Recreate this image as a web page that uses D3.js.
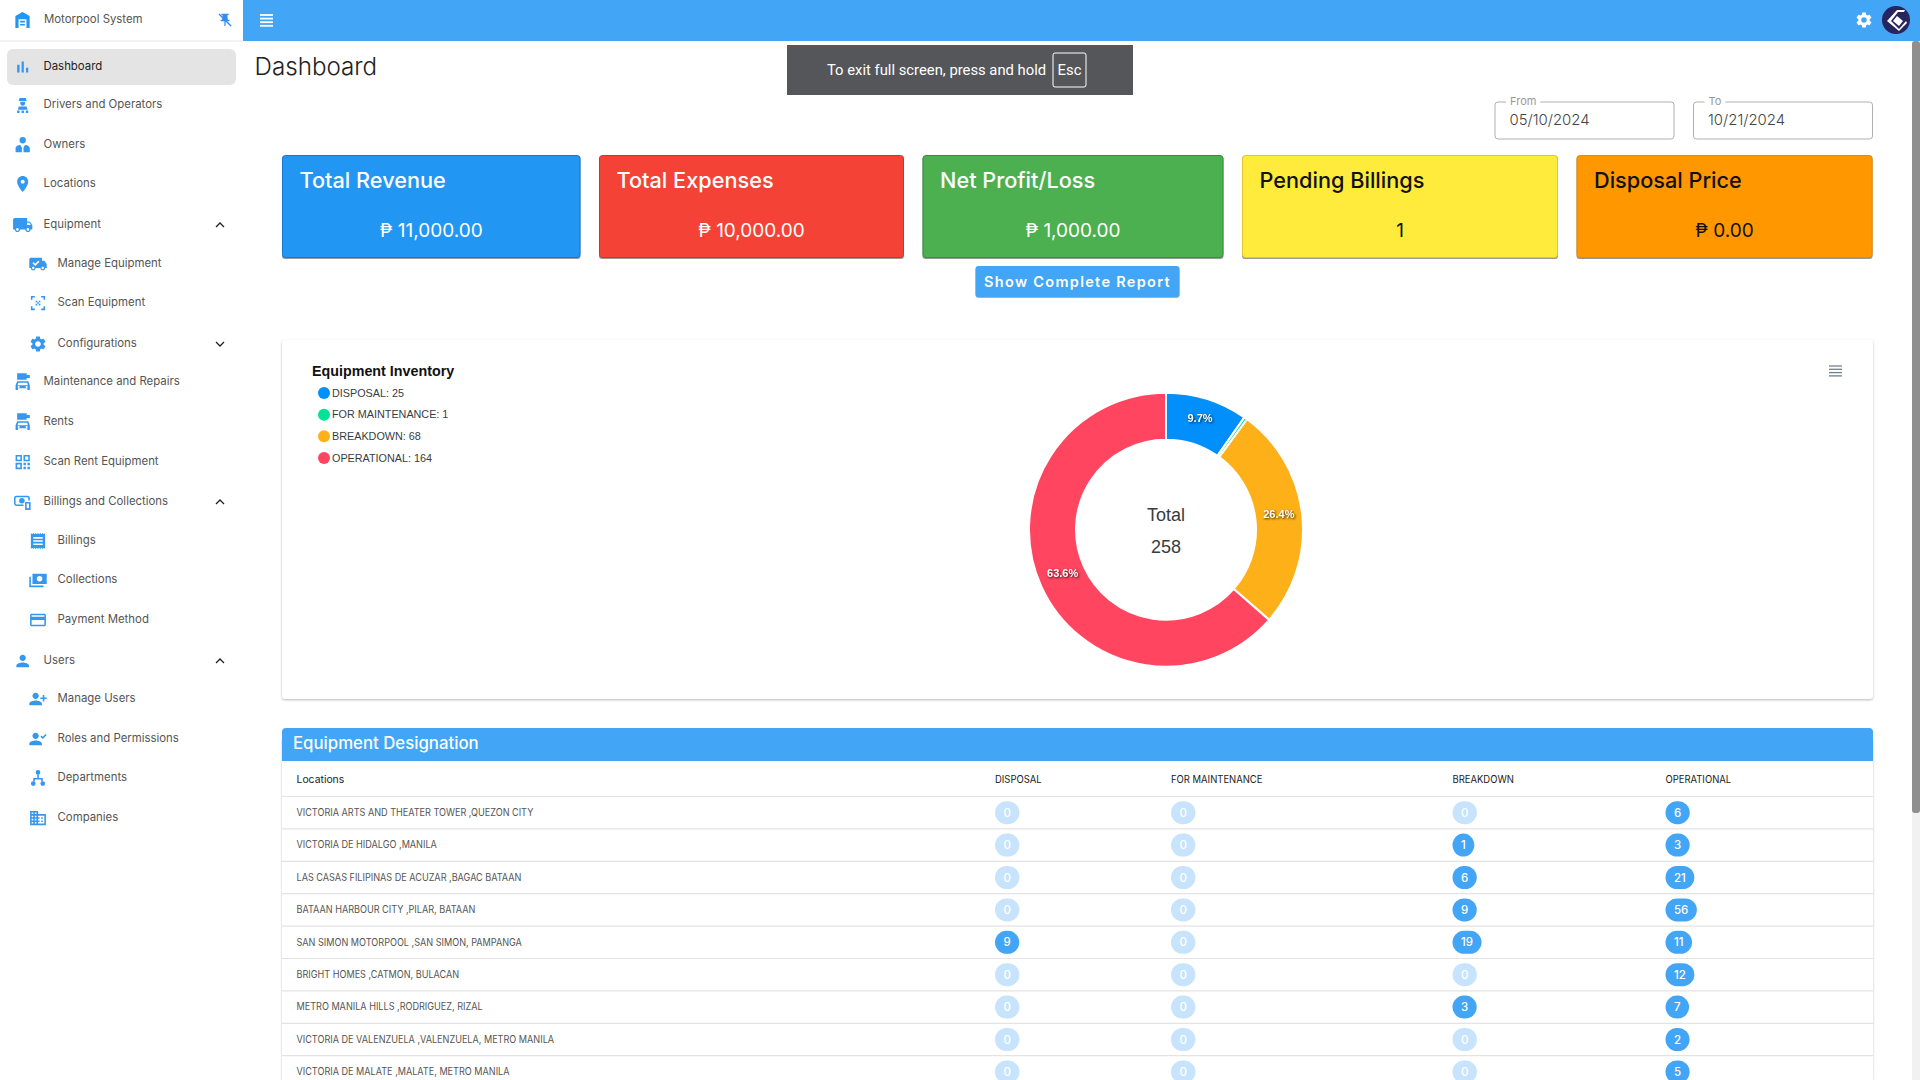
<!DOCTYPE html>
<html>
<head>
<meta charset="utf-8">
<script src="https://cdn.jsdelivr.net/npm/d3@7"></script>
<style>
  html, body { margin: 0; padding: 0; background: #fff; overflow: hidden; }
  svg { display: block; }
  text { font-family: Inter, Roboto, sans-serif; }
  .apex { font-family: "Liberation Sans", Arial, sans-serif; }
  .toast { font-family: Roboto, sans-serif; }
</style>
</head>
<body>
<div id="chart"></div>
<script>
// donut data
const categories = ["DISPOSAL", "FOR MAINTENANCE", "BREAKDOWN", "OPERATIONAL"];
const inventory = [25, 1, 68, 164];
const sliceColors = ["#008ffb", "#00e396", "#feb019", "#ff4560"];

// table data
const locations = [
  "VICTORIA ARTS AND THEATER TOWER ,QUEZON CITY",
  "VICTORIA DE HIDALGO ,MANILA",
  "LAS CASAS FILIPINAS DE ACUZAR ,BAGAC BATAAN",
  "BATAAN HARBOUR CITY ,PILAR, BATAAN",
  "SAN SIMON MOTORPOOL ,SAN SIMON, PAMPANGA",
  "BRIGHT HOMES ,CATMON, BULACAN",
  "METRO MANILA HILLS ,RODRIGUEZ, RIZAL",
  "VICTORIA DE VALENZUELA ,VALENZUELA, METRO MANILA",
  "VICTORIA DE MALATE ,MALATE, METRO MANILA"
];
const disposal = [0, 0, 0, 0, 9, 0, 0, 0, 0];
const maintenance = [0, 0, 0, 0, 0, 0, 0, 0, 0];
const breakdown = [0, 1, 6, 9, 19, 0, 3, 0, 0];
const operational = [6, 3, 21, 56, 11, 12, 7, 2, 5];

// summary cards
const cardTitles = ["Total Revenue", "Total Expenses", "Net Profit/Loss", "Pending Billings", "Disposal Price"];
const cardValues = ["₱ 11,000.00", "₱ 10,000.00", "₱ 1,000.00", "1", "₱ 0.00"];
const cardColors = ["#2196f3", "#f44336", "#4caf50", "#ffeb3b", "#ff9800"];
const cardEdges = ["#1976d2", "#d32f2f", "#388e3c", "#e0c828", "#e68a00"];
const cardText = ["#fff", "#fff", "#fff", "#111", "#111"];
const cardLeft = [282, 599, 922.5, 1242, 1576.5];
const cardRight = [580.5, 904, 1223.5, 1558, 1872.6];

// sidebar
const navLabels = ["Dashboard", "Drivers and Operators", "Owners", "Locations", "Equipment", "Manage Equipment", "Scan Equipment", "Configurations", "Maintenance and Repairs", "Rents", "Scan Rent Equipment", "Billings and Collections", "Billings", "Collections", "Payment Method", "Users", "Manage Users", "Roles and Permissions", "Departments", "Companies"];
const navIcons = ["bars", "driver", "owner", "place", "truck", "truckCheck", "scan", "gear", "carKey", "carKey", "qr", "money", "receipt", "cash", "card", "person", "personAdd", "personCheck", "tree", "business"];
const navLevel = [0, 0, 0, 0, 0, 1, 1, 1, 0, 0, 0, 0, 1, 1, 1, 0, 1, 1, 1, 1];
const navY = [66.5, 104.5, 144.5, 183.5, 224.5, 263.5, 302.5, 343.5, 381.5, 421.5, 461.5, 501.5, 540.5, 579.5, 619.5, 660.5, 698.5, 738.5, 777.5, 817.5];
const navChevrons = { "Equipment": "up", "Configurations": "down", "Billings and Collections": "up", "Users": "up" };

const iconPaths = {
  bars: "M5 9.2h3V19H5zM10.6 5h2.8v14h-2.8zm5.6 8H19v6h-2.8z",
  driver: "M8 3h8l1 4H7zM9 8h6v2a3 3 0 0 1-6 0zM7 14h10l1 4H6zM5 19h3v3H5zM10.5 19h3v3h-3zM16 19h3v3h-3z",
  owner: "M12 2a4 4 0 1 1 0 8 4 4 0 0 1 0-8zM3 21v-5c0-2 3-4 6-4l2 3v6zM21 21v-5c0-2-3-4-6-4l-2 3v6z",
  place: "M12 2C8.13 2 5 5.13 5 9c0 5.25 7 13 7 13s7-7.75 7-13c0-3.87-3.13-7-7-7zm0 9.5c-1.38 0-2.5-1.12-2.5-2.5s1.12-2.5 2.5-2.5 2.5 1.12 2.5 2.5-1.12 2.5-2.5 2.5z",
  truck: "M20 8h-3V4H3c-1.1 0-2 .9-2 2v11h2c0 1.66 1.34 3 3 3s3-1.34 3-3h6c0 1.66 1.34 3 3 3s3-1.34 3-3h2v-5l-3-4zM6 18.5c-.83 0-1.5-.67-1.5-1.5s.67-1.5 1.5-1.5 1.5.67 1.5 1.5-.67 1.5-1.5 1.5zm13.5-9l1.96 2.5H17V9.5h2.5zm-1.5 9c-.83 0-1.5-.67-1.5-1.5s.67-1.5 1.5-1.5 1.5.67 1.5 1.5-.67 1.5-1.5 1.5z",
  truckCheck: "M20 8h-3V4H3c-1.1 0-2 .9-2 2v11h2c0 1.66 1.34 3 3 3s3-1.34 3-3h6c0 1.66 1.34 3 3 3s3-1.34 3-3h2v-5l-3-4zM6 18.5c-.83 0-1.5-.67-1.5-1.5s.67-1.5 1.5-1.5 1.5.67 1.5 1.5-.67 1.5-1.5 1.5zm12 0c-.83 0-1.5-.67-1.5-1.5s.67-1.5 1.5-1.5 1.5.67 1.5 1.5-.67 1.5-1.5 1.5zM5 11l1.4-1.4L8.5 11.7l4-4L13.9 9.1l-5.4 5.4z",
  scan: "M3 8V3h5v2H5v3zM16 3h5v5h-2V5h-3zM3 16h2v3h3v2H3zM19 16h2v5h-5v-2h3zM9 9h2v2H9zM13 9h2v2h-2zM11 11h2v2h-2zM9 13h2v2H9zM13 13h2v2h-2z",
  gear: "M19.14 12.94c.04-.3.06-.61.06-.94 0-.32-.02-.64-.07-.94l2.03-1.58c.18-.14.23-.41.12-.61l-1.92-3.32c-.12-.22-.37-.29-.59-.22l-2.39.96c-.5-.38-1.03-.7-1.62-.94l-.36-2.54c-.04-.24-.24-.41-.48-.41h-3.84c-.24 0-.43.17-.47.41l-.36 2.54c-.59.24-1.13.57-1.62.94l-2.39-.96c-.22-.08-.47 0-.59.22L2.74 8.87c-.12.21-.08.47.12.61l2.03 1.58c-.05.3-.09.63-.09.94s.02.64.07.94l-2.03 1.58c-.18.14-.23.41-.12.61l1.92 3.32c.12.22.37.29.59.22l2.39-.96c.5.38 1.03.7 1.62.94l.36 2.54c.05.24.24.41.48.41h3.84c.24 0 .44-.17.47-.41l.36-2.54c.59-.24 1.13-.56 1.62-.94l2.39.96c.22.08.47 0 .59-.22l1.92-3.32c.12-.22.07-.47-.12-.61l-2.01-1.58zM12 15.6c-1.98 0-3.6-1.62-3.6-3.6s1.62-3.6 3.6-3.6 3.6 1.62 3.6 3.6-1.62 3.6-3.6 3.6z",
  carKey: "M5 1h12v2h4v4h-4v2H5zM5 11h14l2 5v6h-3v-2H6v2H3v-6zM6.5 13l-1 3h13l-1-3zM7 17a1.3 1.3 0 1 0 0 2.6A1.3 1.3 0 0 0 7 17zm10 0a1.3 1.3 0 1 0 0 2.6 1.3 1.3 0 0 0 0-2.6z",
  qr: "M3 3h8v8H3zm2 2v4h4V5zM13 3h8v8h-8zm2 2v4h4V5zM3 13h8v8H3zm2 2v4h4v-4zM13 13h3v3h-3zM18 13h3v3h-3zM13 18h3v3h-3zM18 18h3v3h-3z",
  money: "M4 4h14a3 3 0 0 1 3 3v3h-2V7a1 1 0 0 0-1-1H4a1 1 0 0 0-1 1v7a1 1 0 0 0 1 1h9v2H4a3 3 0 0 1-3-3V7a3 3 0 0 1 3-3zM11 7a3.5 3.5 0 1 1 0 7 3.5 3.5 0 0 1 0-7zM15 12h7v10h-7zm2 2v6h3v-6z",
  receipt: "M18 17H6v-2h12v2zm0-4H6v-2h12v2zm0-4H6V7h12v2zM3 22l1.5-1.5L6 22l1.5-1.5L9 22l1.5-1.5L12 22l1.5-1.5L15 22l1.5-1.5L18 22l1.5-1.5L21 22V2l-1.5 1.5L18 2l-1.5 1.5L15 2l-1.5 1.5L12 2l-1.5 1.5L9 2 7.5 3.5 6 2 4.5 3.5 3 2v20z",
  cash: "M5 4h18v13H5zM14 7a3.5 3.5 0 1 0 0 7 3.5 3.5 0 0 0 0-7zM1 8h2v11h16v2H1z",
  card: "M20 4H4c-1.11 0-1.99.89-1.99 2L2 18c0 1.11.89 2 2 2h16c1.11 0 2-.89 2-2V6c0-1.11-.89-2-2-2zm0 14H4v-6h16v6zm0-10H4V6h16v2z",
  person: "M12 12c2.21 0 4-1.79 4-4s-1.79-4-4-4-4 1.79-4 4 1.79 4 4 4zm0 2c-2.67 0-8 1.34-8 4v2h16v-2c0-2.66-5.33-4-8-4z",
  personAdd: "M9 12c2.21 0 4-1.79 4-4s-1.79-4-4-4-4 1.79-4 4 1.79 4 4 4zm9-2V7h2v3h3v2h-3v3h-2v-3h-3v-2h3zm-9 4c-2.67 0-8 1.34-8 4v2h16v-2c0-2.66-5.33-4-8-4z",
  personCheck: "M9 12c2.21 0 4-1.79 4-4s-1.79-4-4-4-4 1.79-4 4 1.79 4 4 4zm0 2c-2.67 0-8 1.34-8 4v2h16v-2c0-2.66-5.33-4-8-4zM15 9l1.4-1.4 1.6 1.6L21.6 5.6 23 7l-5 5z",
  tree: "M12 2a3 3 0 1 1 0 6 3 3 0 0 1 0-6zM11 8h2v4h5v4h-2v-2H8v2H6v-4h5zM6 16a3 3 0 1 1 0 6 3 3 0 0 1 0-6zM18 16a3 3 0 1 1 0 6 3 3 0 0 1 0-6z",
  business: "M12 7V3H2v18h20V7H12zM6 19H4v-2h2v2zm0-4H4v-2h2v2zm0-4H4V9h2v2zm0-4H4V5h2v2zm4 12H8v-2h2v2zm0-4H8v-2h2v2zm0-4H8V9h2v2zm0-4H8V5h2v2zm10 12h-8v-2h2v-2h-2v-2h2v-2h-2V9h8v10zm-2-8h-2v2h2v-2zm0 4h-2v2h2v-2z",
  garage: "M12 2l9 5v15h-4V11H7v11H3V7zM9 13h6v2H9zM9 17h6v2H9z",
  pin: "M16 9V4h1c.55 0 1-.45 1-1s-.45-1-1-1H7c-.55 0-1 .45-1 1s.45 1 1 1h1v5c0 1.66-1.34 3-3 3v2h5.97v7l1 1 1-1v-7H19v-2c-1.66 0-3-1.34-3-3z"
};

const blue = "#42a5f5";
const svg = d3.select("#chart").append("svg").attr("width", 1920).attr("height", 1080);

function label(parent, str, x, y, size, color, weight) {
  return parent.append("text").attr("x", x).attr("y", y).attr("dy", "0.35em")
    .attr("font-size", size).attr("fill", color).attr("font-weight", weight || 400).text(str);
}
// poppins caps run narrower than inter, so squeeze the glyphs to the same width
function squeeze(sel, k) {
  sel.each(function () {
    d3.select(this).attr("textLength", this.getComputedTextLength() * k).attr("lengthAdjust", "spacingAndGlyphs");
  });
  return sel;
}
function icon(parent, name, cx, cy, size, color) {
  return parent.append("path").attr("d", iconPaths[name]).attr("fill", color).attr("fill-rule", "evenodd")
    .attr("transform", `translate(${cx - size / 2},${cy - size / 2}) scale(${size / 24})`);
}
function burger(parent, x, y, w, color, gap, sw) {
  d3.range(4).forEach(i => parent.append("line").attr("x1", x).attr("x2", x + w)
    .attr("y1", y + i * gap).attr("y2", y + i * gap).attr("stroke", color).attr("stroke-width", sw));
}

// top bar
svg.append("rect").attr("x", 243).attr("y", 0).attr("width", 1677).attr("height", 41).attr("fill", blue);
burger(svg, 260, 15, 13, "#fff", 3.6, 1.8);
icon(svg, "gear", 1864, 20, 19, "#fff");
svg.append("circle").attr("cx", 1896).attr("cy", 20).attr("r", 14).attr("fill", "#26255f");
svg.append("path").attr("d", "M1887 21l10-11h8l-1 2h-6l-7 9 8 8 7-8 1 2-8 8z M1893 21l4-5 6 5-4 5z").attr("fill", "#fff");

// scrollbar
svg.append("rect").attr("x", 1912).attr("y", 41).attr("width", 8).attr("height", 1039).attr("fill", "#f1f1f1");
svg.append("rect").attr("x", 1912).attr("y", 41).attr("width", 8).attr("height", 772).attr("rx", 3).attr("fill", "#8f8f8f");

// sidebar
const side = svg.append("g");
side.append("line").attr("x1", 0).attr("x2", 243).attr("y1", 41).attr("y2", 41).attr("stroke", "#e5e5e5");
icon(side, "garage", 22.5, 20, 19, "#2196f3");
label(side, "Motorpool System", 44, 19, 11.4, "#555");
icon(side, "pin", 225, 20, 15, "#2f8ef0");
side.append("line").attr("x1", 219).attr("y1", 14).attr("x2", 231).attr("y2", 26).attr("stroke", "#2f8ef0").attr("stroke-width", 1.4);
side.append("rect").attr("x", 7).attr("y", 49).attr("width", 229).attr("height", 36).attr("rx", 6).attr("fill", "#e4e4e4");

navLabels.forEach((name, i) => {
  const sub = navLevel[i] === 1;
  const wide = navIcons[i] === "truck" ? 21 : 19;
  icon(side, navIcons[i], sub ? 38 : 22.7, navY[i] + 0.5, wide, "#3498f0");
  label(side, name, sub ? 57.5 : 43.5, navY[i], 11.4, i === 0 ? "#222" : "#555");
  const dir = navChevrons[name];
  if (dir) {
    const s = dir === "up" ? -1 : 1;
    side.append("path").attr("d", `M216 ${navY[i] + 0.5 - s * 2}l4 ${s * 4}l4 ${-s * 4}`)
      .attr("fill", "none").attr("stroke", "#222").attr("stroke-width", 1.3);
  }
});

// heading and date fields
label(svg, "Dashboard", 254.5, 67, 24.2, "#222", 300);
[["From", "05/10/2024", 1495], ["To", "10/21/2024", 1693.5]].forEach(([name, date, x]) => {
  svg.append("rect").attr("x", x).attr("y", 102).attr("width", 179).attr("height", 37).attr("rx", 3)
    .attr("fill", "#fff").attr("stroke", "#b0b0b0");
  const t = label(svg, name, x + 15, 101, 11, "#999");
  svg.insert("rect", () => t.node()).attr("x", x + 11).attr("y", 100).attr("width", t.node().getComputedTextLength() + 8)
    .attr("height", 4).attr("fill", "#fff");
  label(svg, date, x + 14.5, 120, 14.9, "#444", 300);
});

// fullscreen toast
svg.append("rect").attr("x", 787).attr("y", 45).attr("width", 346).attr("height", 50).attr("fill", "#54565a");
label(svg, "To exit full screen, press and hold", 827, 70, 14.8, "#fff").attr("class", "toast");
svg.append("rect").attr("x", 1053).attr("y", 53).attr("width", 33).attr("height", 34).attr("rx", 2)
  .attr("fill", "none").attr("stroke", "#fff");
label(svg, "Esc", 1069.5, 70, 14.8, "#fff").attr("class", "toast").attr("text-anchor", "middle");

// summary cards
const cards = svg.append("g").selectAll("g").data(cardTitles).join("g");
cards.append("rect").attr("x", (d, i) => cardLeft[i]).attr("y", 156)
  .attr("width", (d, i) => cardRight[i] - cardLeft[i]).attr("height", 103).attr("rx", 3).attr("fill", "#999");
cards.append("rect").attr("x", (d, i) => cardLeft[i] + 0.5).attr("y", 155.5)
  .attr("width", (d, i) => cardRight[i] - cardLeft[i] - 1).attr("height", 102).attr("rx", 3)
  .attr("fill", (d, i) => cardColors[i]).attr("stroke", (d, i) => cardEdges[i]);
cards.append("text").attr("x", (d, i) => cardLeft[i] + 17.5).attr("y", 180).attr("dy", "0.35em")
  .attr("font-size", 21.7).attr("font-weight", 500).attr("fill", (d, i) => cardText[i]).text(d => d);
cards.append("text").attr("x", (d, i) => (cardLeft[i] + cardRight[i]) / 2).attr("y", 230.5).attr("dy", "0.35em")
  .attr("text-anchor", "middle").attr("font-size", 19).attr("font-weight", 400)
  .attr("fill", (d, i) => cardText[i]).text((d, i) => cardValues[i]);

// report button
svg.append("rect").attr("x", 975.5).attr("y", 267).attr("width", 204).attr("height", 31).attr("rx", 3).attr("fill", "#b9ab9a");
svg.append("rect").attr("x", 975.5).attr("y", 266).attr("width", 204).attr("height", 31).attr("rx", 3).attr("fill", blue);
label(svg, "Show Complete Report", 1077.5, 282, 14.5, "#fff", 600).attr("text-anchor", "middle").attr("letter-spacing", "1.3px");

// donut card
svg.append("rect").attr("x", 282).attr("y", 340).attr("width", 1591).attr("height", 359).attr("rx", 3)
  .attr("fill", "#fff").style("filter", "drop-shadow(0 1px 1px rgba(0,0,0,0.28))");
label(svg, "Equipment Inventory", 312, 371, 14.3, "#111", 700).attr("class", "apex");
burger(svg, 1829, 366, 13, "#6e8192", 3.3, 1.3);

const legendY = d3.scalePoint().domain(categories).range([393, 458]);
const legend = svg.append("g").selectAll("g").data(categories).join("g");
legend.append("circle").attr("cx", 324).attr("cy", d => legendY(d)).attr("r", 6)
  .attr("fill", (d, i) => sliceColors[i]);
legend.append("text").attr("class", "apex").attr("x", 332).attr("y", d => legendY(d)).attr("dy", "0.35em")
  .attr("font-size", 10.8).attr("fill", "#373d3f").text((d, i) => `${d}: ${inventory[i]}`);

const total = d3.sum(inventory);
const pie = d3.pie().sort(null).value(d => d);
const outerR = 137, innerR = 90;
const arc = d3.arc().innerRadius(innerR).outerRadius(outerR);
const donut = svg.append("g").attr("transform", "translate(1166,529.7)");
donut.selectAll("path").data(pie(inventory)).join("path")
  .attr("d", arc).attr("fill", (d, i) => sliceColors[i]).attr("stroke", "#fff").attr("stroke-width", 2);
const pct = d3.format(".1%");
donut.selectAll("text.pct").data(pie(inventory).filter(d => d.value / total > 0.01)).join("text")
  .attr("class", "pct apex").attr("text-anchor", "middle").attr("dy", "0.35em")
  .attr("transform", d => { const c = arc.centroid(d); return `translate(${c[0]},${c[1] - 3})`; })
  .attr("font-size", 11).attr("font-weight", 700).attr("fill", "#fff")
  .style("filter", "drop-shadow(1px 1px 1px rgba(0,0,0,0.75))")
  .text(d => pct(d.value / total));
donut.append("text").attr("class", "apex").attr("text-anchor", "middle").attr("y", -15).attr("dy", "0.35em")
  .attr("font-size", 18).attr("fill", "#373d3f").text("Total");
donut.append("text").attr("class", "apex").attr("text-anchor", "middle").attr("y", 17).attr("dy", "0.35em")
  .attr("font-size", 18).attr("fill", "#373d3f").text(total);

// table
const seriesNames = categories;
const seriesValues = [disposal, maintenance, breakdown, operational];
const tableX = d3.scaleOrdinal().domain(seriesNames).range([995, 1171, 1452.5, 1665.5]);
const rowY = d3.scaleBand().domain(locations).range([796.5, 796.5 + 32.4 * locations.length]);

svg.append("rect").attr("x", 282).attr("y", 740).attr("width", 1591).attr("height", 340).attr("fill", "#fff")
  .style("filter", "drop-shadow(0 0 1px rgba(0,0,0,0.25))");
svg.append("path").attr("d", "M282 761V732a4 4 0 0 1 4-4H1869a4 4 0 0 1 4 4V761z").attr("fill", blue);
label(svg, "Equipment Designation", 293, 743, 16.8, "#fff", 500);
label(svg, "Locations", 296.5, 779, 10.4, "#222", 400);
seriesNames.forEach(name => squeeze(label(svg, name, tableX(name), 779, 10.4, "#222", 400), 0.91));

const rows = svg.append("g").selectAll("g").data(locations).join("g")
  .attr("transform", d => `translate(0,${rowY(d)})`);
rows.append("line").attr("x1", 282).attr("x2", 1873).attr("stroke", "#e3e3e3").attr("stroke-width", 1.2);
squeeze(rows.append("text").attr("x", 296.5).attr("y", rowY.bandwidth() / 2).attr("dy", "0.32em")
  .attr("font-size", 10.4).attr("fill", "#555").text(d => d), 0.875);

seriesNames.forEach((name, s) => {
  const badge = rows.append("g").attr("transform", `translate(${tableX(name)},${rowY.bandwidth() / 2})`);
  const txt = badge.append("text").attr("dy", "0.35em").attr("text-anchor", "middle")
    .attr("font-size", 11.5).attr("font-weight", 500).attr("fill", "#fff")
    .text((d, i) => seriesValues[s][i]);
  badge.insert("rect", "text").attr("y", -11.5).attr("height", 23).attr("rx", 11.5)
    .attr("width", function (d, i) { return txt.nodes()[i].getComputedTextLength() + 17; })
    .attr("fill", (d, i) => seriesValues[s][i] === 0 ? "#c7e4fc" : blue);
  txt.attr("x", function () { return (this.getComputedTextLength() + 17) / 2; });
});
</script>
</body>
</html>
